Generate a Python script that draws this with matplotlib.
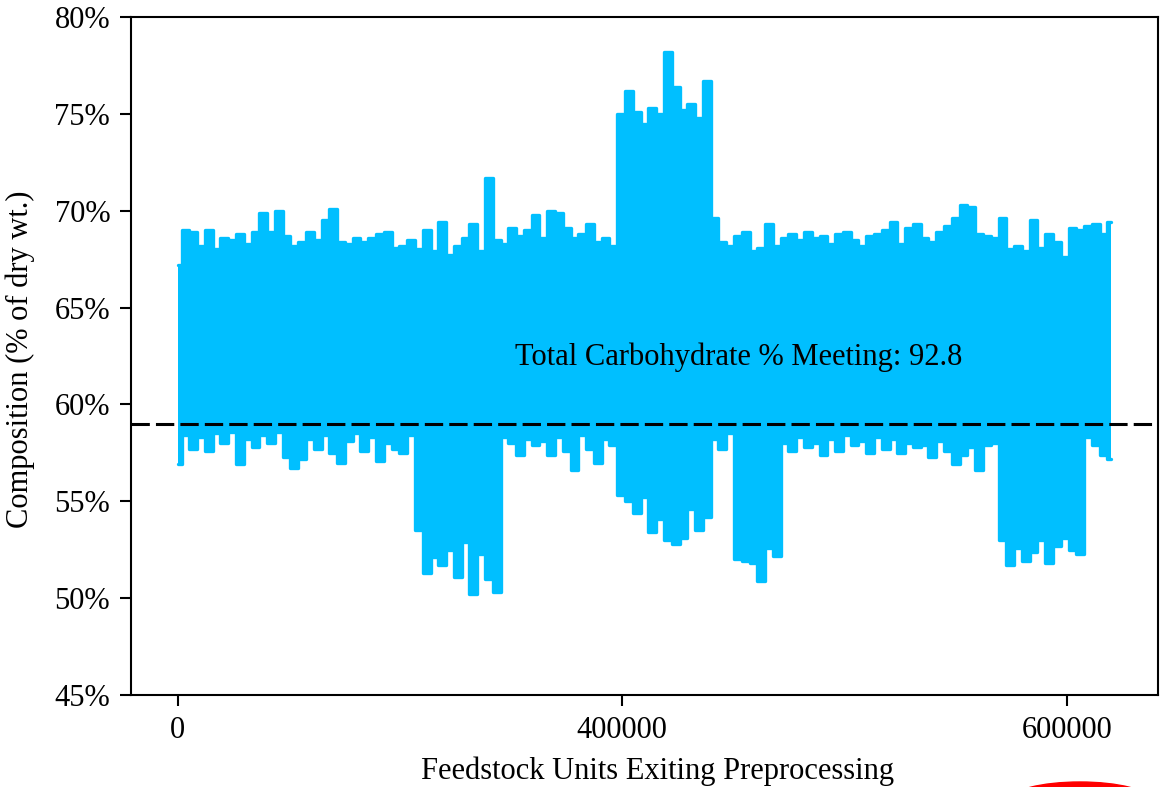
import numpy as np
import matplotlib
matplotlib.use("Agg")
import matplotlib.pyplot as plt
from matplotlib.ticker import PercentFormatter
from matplotlib.patches import Ellipse

##### DOC data
# feedstock units sampled every 3500 units
units = np.arange(0, 121) * 3500

# upper envelope of the composition trace (% of dry wt.)
upper = [67.2, 69.0, 68.9, 68.2, 69.0, 68.0, 68.6, 68.5, 68.8, 68.3,
         68.9, 69.9, 68.9, 70.0, 68.7, 68.2, 68.4, 68.9, 68.5, 69.5,
         70.1, 68.4, 68.3, 68.6, 68.4, 68.6, 68.8, 68.9, 68.1, 68.2,
         68.5, 68.0, 69.0, 67.9, 69.4, 67.7, 68.2, 68.6, 69.3, 67.9,
         71.7, 68.5, 68.3, 69.1, 68.7, 69.0, 69.8, 68.6, 70.0, 69.9,
         69.1, 68.6, 68.8, 69.3, 68.4, 68.6, 68.2, 75.0, 76.2, 75.1,
         74.5, 75.3, 75.0, 78.2, 76.4, 75.2, 75.5, 74.8, 76.7, 69.6,
         68.4, 68.2, 68.7, 68.9, 67.9, 68.1, 69.3, 68.2, 68.6, 68.8,
         68.5, 68.9, 68.6, 68.7, 68.3, 68.8, 68.9, 68.5, 68.2, 68.7,
         68.8, 69.0, 69.4, 68.3, 69.1, 69.3, 68.6, 68.4, 68.9, 69.2,
         69.6, 70.3, 70.2, 68.8, 68.7, 68.6, 69.6, 68.0, 68.2, 67.9,
         69.5, 68.1, 68.8, 68.4, 67.6, 69.1, 69.0, 69.2, 69.3, 68.8,
         69.4]

# lower envelope of the composition trace (% of dry wt.)
lower = [56.9, 58.4, 57.7, 58.3, 57.6, 58.5, 58.0, 58.6, 56.9, 58.2,
         57.8, 58.4, 58.0, 58.6, 57.3, 56.7, 57.2, 58.2, 57.7, 58.4,
         57.5, 57.0, 58.1, 58.5, 57.6, 58.3, 57.1, 58.0, 57.7, 57.5,
         58.4, 53.5, 51.3, 52.1, 51.7, 52.5, 51.1, 52.9, 50.2, 52.3,
         51.0, 50.3, 58.3, 58.0, 57.4, 58.2, 57.9, 58.1, 57.4, 58.3,
         57.6, 56.6, 58.4, 57.7, 57.0, 58.2, 57.9, 55.3, 55.0, 54.4,
         55.2, 53.4, 54.1, 53.0, 52.8, 53.1, 54.6, 53.5, 54.2, 58.2,
         57.7, 58.5, 52.0, 51.9, 51.8, 50.9, 52.6, 52.2, 58.0, 57.6,
         58.3, 57.8, 58.0, 57.4, 58.2, 57.6, 58.4, 57.9, 58.1, 57.5,
         58.3, 57.7, 58.2, 57.5, 58.0, 57.8, 57.9, 57.3, 58.1, 57.6,
         56.9, 57.4, 57.8, 56.6, 57.9, 58.0, 53.0, 51.7, 52.6, 51.9,
         52.4, 53.0, 51.8, 52.7, 53.1, 52.5, 52.3, 58.3, 57.9, 57.4,
         57.2]

threshold = 59.0
meeting = 92.8
tick_pos = [0, 200000, 400000]
tick_labels = ['0', '400000', '600000']
########################################

plt.rcParams['font.family'] = ['Liberation Serif', 'DejaVu Serif']
fs = 22

fig = plt.figure(figsize=(11.6, 7.87), dpi=100)
ax = fig.add_axes([0.1129, 0.1169, 0.8854, 0.8615])

blue = '#00BFFF'
# solid body of the trace
ax.fill_between(units, lower, upper, step='mid', color=blue, linewidth=0)
# edges of the trace, rounded like the thick original line
for env in (upper, lower):
    ax.plot(units, env, drawstyle='steps-mid', color=blue, linewidth=2.4,
            solid_joinstyle='round', solid_capstyle='round')

ax.axhline(threshold, color='black', linewidth=2.2, linestyle=(0, (6, 2)))
ax.text(151800, 62.45, f"Total Carbohydrate % Meeting: {meeting}",
        fontsize=fs, va='center', ha='left')

ax.set_ylim(45, 80)
ax.set_yticks(np.arange(45, 81, 5))
ax.yaxis.set_major_formatter(PercentFormatter(xmax=100, decimals=0))
ax.set_xticks(tick_pos)
ax.set_xticklabels(tick_labels)
ax.tick_params(labelsize=fs, length=8, width=1.5, pad=7)
for s in ax.spines.values():
    s.set_linewidth(1.5)

ax.set_xlabel("Feedstock Units Exiting Preprocessing", fontsize=fs)
ax.xaxis.set_label_coords(0.5126, -0.09)
ax.set_ylabel("Composition (% of dry wt.)", fontsize=fs)
ax.yaxis.set_label_coords(-0.093, 0.495)

# red mark at the lower right of the screenshot
fig.patches.append(Ellipse((0.931, -0.0165), 0.1207, 0.0457, color='red',
                           transform=fig.transFigure, figure=fig))

plt.savefig("out.png", dpi=100)
